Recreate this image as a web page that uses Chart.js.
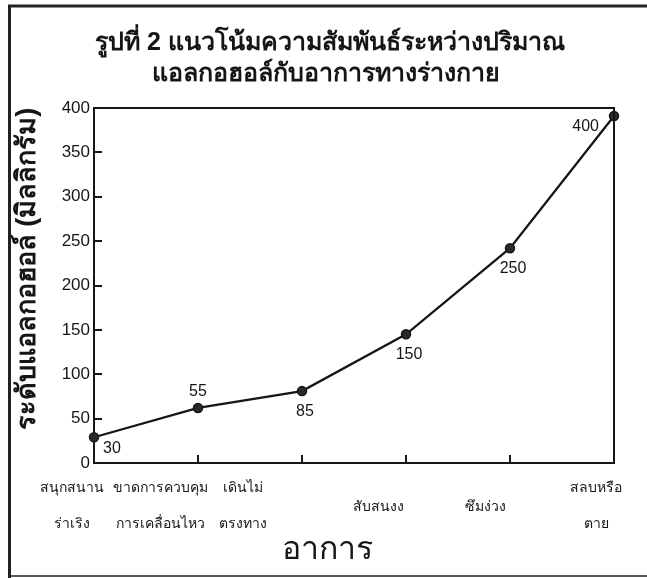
<!DOCTYPE html>
<html><head><meta charset="utf-8">
<script src="https://cdn.jsdelivr.net/npm/chart.js@4.4.1/dist/chart.umd.min.js"></script>
<style>html,body{margin:0;padding:0;background:#fff}#wrap{width:647px;height:578px}</style>
</head><body><div id="wrap"><canvas id="c" width="647" height="578"></canvas></div>
<script>
// ---- data ----
const categories = [
  ['สนุกสนาน','ร่าเริง'],
  ['ขาดการควบคุม','การเคลื่อนไหว'],
  ['เดินไม่','ตรงทาง'],
  ['สับสนงง'],
  ['ซึมง่วง'],
  ['สลบหรือ','ตาย']
];
const values = [29, 62, 81, 145, 242, 391];
const pointLabels = ['30','55','85','150','250','400'];
const titleLines = ['รูปที่ 2 แนวโน้มความสัมพันธ์ระหว่างปริมาณ','แอลกอฮอล์กับอาการทางร่างกาย'];
const yTitle = 'ระดับแอลกอฮอล์ (มิลลิกรัม)';
const xTitle = 'อาการ';
const yMin = 0, yMax = 400, yStep = 50;

// ---- styling ----
const FONT = '"Liberation Sans", Arial, sans-serif';
const INK = '#161616';
const xLabelShift = [-22, -38, -59, -28, -25, -18];
const labelPlace = ['right','above','below','below','below','left'];

const decor = {
  id: 'decor',
  beforeDraw(chart) {
    const ctx = chart.ctx;
    ctx.save();
    ctx.strokeStyle = '#222';
    ctx.lineWidth = 3;
    ctx.beginPath();
    ctx.moveTo(9.5, 578); ctx.lineTo(9.5, 6); ctx.lineTo(647, 6);
    ctx.stroke();
    ctx.lineWidth = 1.5;
    ctx.beginPath(); ctx.moveTo(9, 576); ctx.lineTo(647, 576); ctx.stroke();
    ctx.restore();
  },
  afterDraw(chart) {
    const ctx = chart.ctx, a = chart.chartArea;
    const xs = chart.scales.x;
    ctx.save();
    ctx.strokeStyle = INK; ctx.lineWidth = 2;
    ctx.beginPath();
    ctx.moveTo(a.left, a.top); ctx.lineTo(a.right, a.top); ctx.lineTo(a.right, a.bottom);
    ctx.stroke();
    ctx.fillStyle = INK;
    ctx.textBaseline = 'middle';
    // chart title
    ctx.textAlign = 'center';
    ctx.font = 'bold 25px ' + FONT;
    ctx.fillText(titleLines[0], 330, 43);
    ctx.fillText(titleLines[1], 326, 74);
    // x axis title
    ctx.font = '32px ' + FONT;
    ctx.fillText(xTitle, 327, 550);
    // y axis title
    ctx.save();
    ctx.translate(28, 269);
    ctx.rotate(-Math.PI / 2);
    ctx.font = 'bold 27px ' + FONT;
    ctx.fillText(yTitle, 0, 0);
    ctx.restore();
    // x category labels
    ctx.font = '14px ' + FONT;
    categories.forEach((lines, i) => {
      const x = xs.getPixelForTick(i) + xLabelShift[i];
      if (lines.length === 1) {
        ctx.fillText(lines[0], x, a.bottom + 44);
      } else {
        ctx.fillText(lines[0], x, a.bottom + 25);
        ctx.fillText(lines[1], x, a.bottom + 61);
      }
    });
    // point labels
    const meta = chart.getDatasetMeta(0);
    ctx.font = '16px ' + FONT;
    meta.data.forEach((pt, i) => {
      const p = labelPlace[i];
      let x = pt.x, y = pt.y;
      if (p === 'right') { ctx.textAlign = 'left'; x += 9; y += 11; }
      else if (p === 'left') { ctx.textAlign = 'right'; x -= 15; y += 11; }
      else if (p === 'above') { ctx.textAlign = 'center'; y -= 16; }
      else { ctx.textAlign = 'center'; y += 20; x += 3; }
      ctx.fillText(pointLabels[i], x, y);
    });
    ctx.restore();
  }
};

new Chart(document.getElementById('c'), {
  type: 'line',
  data: {
    labels: categories,
    datasets: [{
      data: values,
      borderColor: INK,
      borderWidth: 2.3,
      backgroundColor: '#2a2a2a',
      pointBackgroundColor: '#2a2a2a',
      pointBorderColor: INK,
      pointBorderWidth: 1.5,
      pointRadius: 4.5,
      tension: 0
    }]
  },
  options: {
    responsive: false,
    animation: false,
    layout: { padding: { left: 12, right: 33, top: 108, bottom: 0 } },
    plugins: {
      legend: { display: false },
      tooltip: { enabled: false },
      title: { display: false }
    },
    scales: {
      x: {
        type: 'category',
        offset: false,
        grid: { display: true, drawOnChartArea: false, drawTicks: true, tickLength: -8, color: INK, lineWidth: 2 },
        border: { display: true, color: INK, width: 2 },
        ticks: { display: false },
        title: { display: false },
        afterFit: s => { s.height = 115; }
      },
      y: {
        min: yMin, max: yMax,
        grid: { display: true, drawOnChartArea: false, drawTicks: true, tickLength: -8, color: INK, lineWidth: 2 },
        border: { display: true, color: INK, width: 2 },
        ticks: { stepSize: yStep, color: INK, font: { family: FONT, size: 17 }, padding: 12 },
        title: { display: false },
        afterFit: s => { s.width = 82; }
      }
    }
  },
  plugins: [decor]
});
</script>
</body></html>
